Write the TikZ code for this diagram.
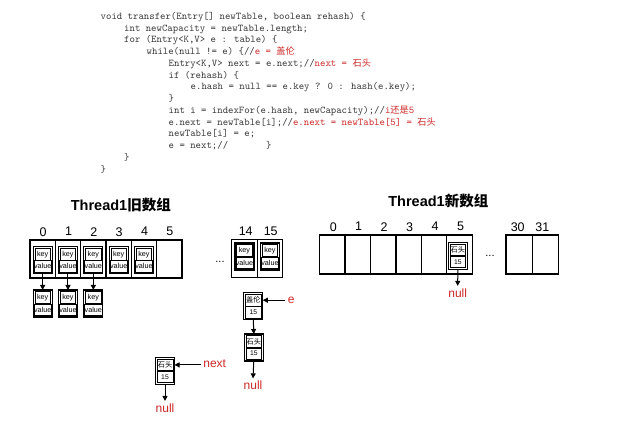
\documentclass[tikz,border=0pt]{standalone}
\usepackage{fontspec}
\setmainfont{Liberation Sans}
\newfontfamily\cjk{Noto Sans CJK SC}
\usetikzlibrary{arrows.meta}
\definecolor{codered}{RGB}{204,40,40}
\definecolor{codegray}{RGB}{55,55,55}
\newcommand\cjkc{\cjk\fontsize{9.2}{10}\selectfont}
\tikzset{
 cell/.style={draw, line width=1.2pt, minimum width=25.4pt, minimum height=38pt, inner sep=0pt, outer sep=0pt},
 entryouter/.style={draw, line width=1.3pt, minimum width=19pt, minimum height=27pt, inner sep=0pt, outer sep=0pt},
 entryinner/.style={draw, line width=0.5pt, minimum width=15.5pt, minimum height=11.3pt, inner sep=0pt, outer sep=0pt, font=\fontsize{7.2}{7.5}\selectfont},
 idx/.style={font=\fontsize{12.5}{13}\selectfont, inner sep=0pt},
 titlelbl/.style={font=\bfseries\fontsize{14.5}{15}\selectfont, inner sep=0pt, anchor=base},
 redlbl/.style={text=codered, font=\fontsize{12}{13}\selectfont, inner sep=2.5pt},
 arr/.style={line width=1pt, -{Triangle[length=5pt,width=5pt]}},
 codeline/.style={anchor=base west, inner sep=0pt, text=codegray, font=\ttfamily\fontsize{10.3}{12}\selectfont},
 dotslbl/.style={font=\fontsize{11}{11}\selectfont, inner sep=0pt}
}
\newcommand\entrybox[5]{%
 \node[entryouter] (#1) at (#2,#3) {};
 \node[entryinner] (#1-t) at ([yshift=6.1pt]#1.center) {#4};
 \node[entryinner] (#1-b) at ([yshift=-6.1pt]#1.center) {#5};
}
\begin{document}
\begin{tikzpicture}[x=1pt,y=-1pt]
\fill[white] (0,0) rectangle (629,427);
\useasboundingbox (0,0) rectangle (629,427);

% code
\node[codeline] (c1) at (100.5,19.5) {void transfer(Entry[] newTable, boolean rehash) \{};
\node[codeline] (c2) at (124,31.25) {int newCapacity = newTable.length;};
\node[codeline] (c3) at (124,43) {for (Entry<K,V> e : table) \{};
\node[codeline] (c4) at (146.5,54.75) {while(null != e) \{//\textcolor{codered}{e = {\cjkc 盖伦}}};
\node[codeline] (c5) at (168.5,66.5) {Entry<K,V> next = e.next;//\textcolor{codered}{next = {\cjkc 石头}}};
\node[codeline] (c6) at (168.5,78.25) {if (rehash) \{};
\node[codeline] (c7) at (190.5,90) {e.hash = null == e.key ? 0 : hash(e.key);};
\node[codeline] (c8) at (168.5,101.75) {\}};
\node[codeline] (c9) at (168.5,113.5) {int i = indexFor(e.hash, newCapacity);//\textcolor{codered}{i{\cjkc 还是}5}};
\node[codeline] (c10) at (168.5,125.25) {e.next = newTable[i];//\textcolor{codered}{e.next = newTable[5] = {\cjkc 石头}}};
\node[codeline] (c11) at (168.5,137) {newTable[i] = e;};
\node[codeline] (c12) at (168.5,148.75) {e = next;//\phantom{0000000}\}};
\node[codeline] (c13) at (124,160.5) {\}};
\node[codeline] (c14) at (100.5,172.25) {\}};

% titles
\node[titlelbl] (t1) at (120.8,210.3) {Thread1{\cjk 旧数组}};
\node[titlelbl] (t2) at (438.3,207) {Thread1{\cjk 新数组}};

% old array
\foreach \k in {0,...,5} {
  \node[cell, minimum width=25.33pt] (o\k) at ({30+25.33*(\k+0.5)},259) {};
  \node[idx] (olbl\k) at ({30.5+25.33*(\k+0.5)},231.7) {\k};
}
\node[cell, minimum width=25.5pt] (o14) at (244.45,258.3) {};
\node[cell, minimum width=25.5pt] (o15) at (269.95,258.3) {};
\node[idx] (olbl14) at (245.7,231.7) {14};
\node[idx] (olbl15) at (270.7,231.7) {15};
\node[dotslbl] (odots) at (220,262) {...};

\foreach \k in {0,...,4} {
  \entrybox{oe\k}{{30+25.33*(\k+0.5)}}{260.3}{key}{value}
}
\foreach \k in {0,...,2} {
  \entrybox{olow\k}{{30+25.33*(\k+0.5)}}{303.5}{key}{value}
  \draw[arr] (oe\k.south) -- (olow\k.north);
}
\entrybox{oe14}{244.45}{256.5}{key}{value}
\entrybox{oe15}{269.95}{256.5}{key}{value}

% chain
\entrybox{gl}{253.3}{306.3}{\cjk 盖伦}{\fontsize{6.8}{7}\selectfont 15}
\entrybox{st1}{253.8}{347.5}{\cjk 石头}{\fontsize{6.8}{7}\selectfont 15}
\entrybox{st2}{165}{371}{\cjk 石头}{\fontsize{6.8}{7}\selectfont 15}
\node[redlbl] (e) at (291.3,300) {e};
\draw[arr] (gl-t -| e.west) -- (gl-t -| gl.east);
\draw[arr] (gl.south) -- (st1.north);
\node[redlbl] (null1) at (253,385.5) {null};
\draw[arr] (st1.south) -- (null1.north);
\node[redlbl] (nxt) at (214.7,364) {next};
\draw[arr] (st2-t -| nxt.west) -- (st2-t -| st2.east);
\node[redlbl] (null2) at (165,408) {null};
\draw[arr] (st2.south) -- (null2.north);

% new array
\foreach \k in {0,...,5} {
  \node[cell, minimum width=25.47pt, minimum height=39pt] (n\k) at ({319.5+25.47*(\k+0.5)},254.5) {};
  \node[idx] (nlbl\k) at ({320.5+25.47*(\k+0.5)},226.7) {\k};
}
\node[cell, minimum width=26.2pt, minimum height=39pt] (n30) at (519.1,254.5) {};
\node[cell, minimum width=26.2pt, minimum height=39pt] (n31) at (545.3,254.5) {};
\node[idx] (nlbl30) at (517.7,226.7) {30};
\node[idx] (nlbl31) at (542.3,226.7) {31};
\node[dotslbl] (ndots) at (490,256) {...};
\entrybox{st3}{457.8}{256}{\cjk 石头}{\fontsize{6.8}{7}\selectfont 15}
\node[redlbl] (null3) at (457.7,293) {null};
\draw[arr] (st3.south) -- (null3.north);
\end{tikzpicture}
\end{document}
